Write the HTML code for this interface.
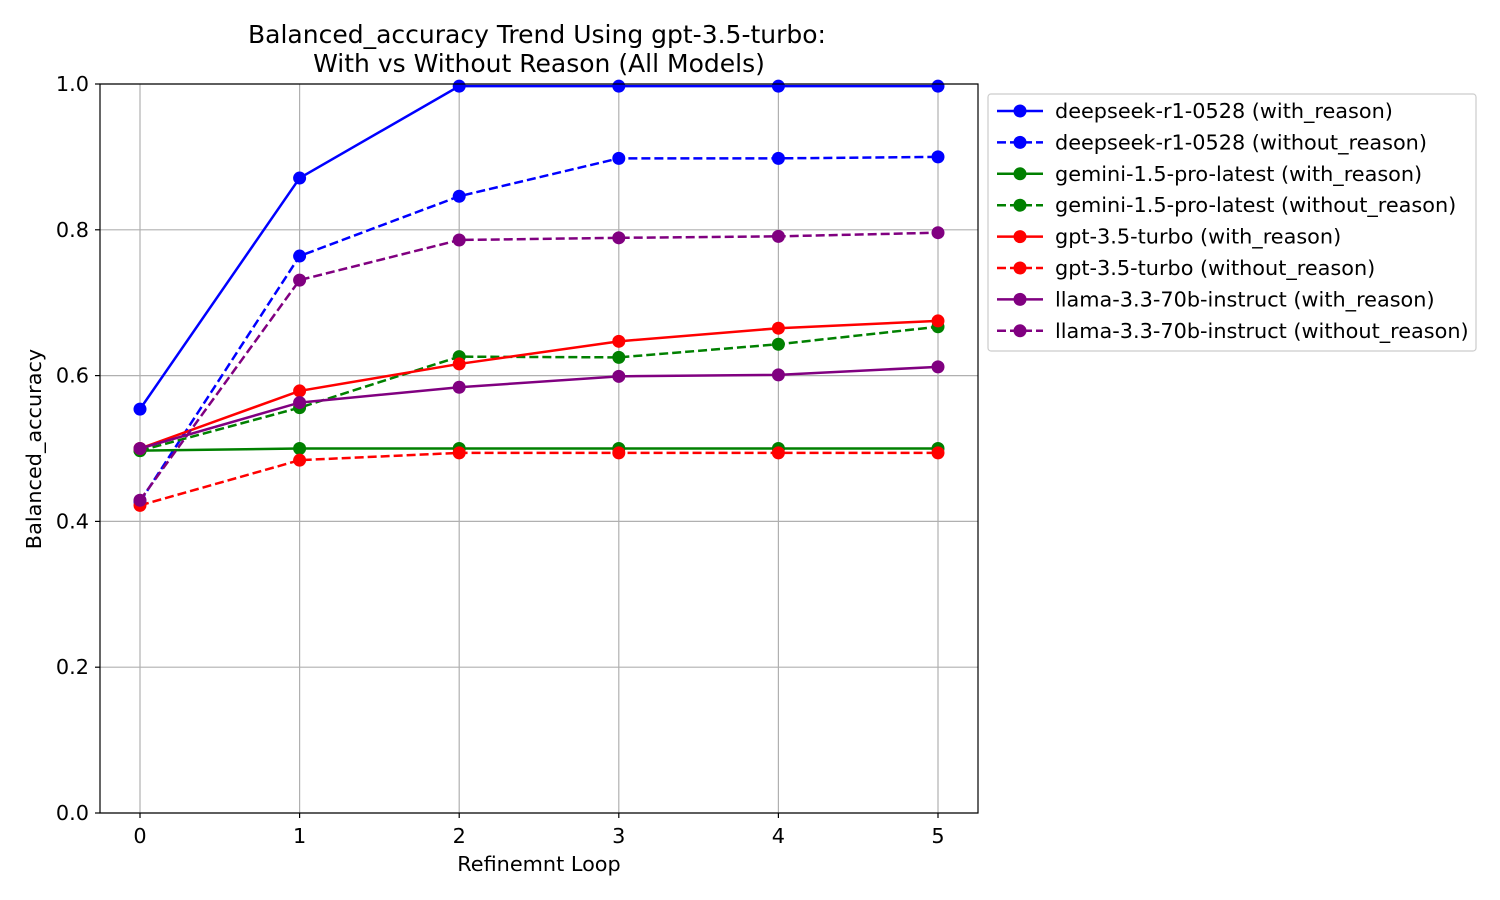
<!DOCTYPE html>
<html><head><meta charset="utf-8"><style>
html,body{margin:0;padding:0;background:#fff;}
svg{display:block;font-family:"DejaVu Sans","Liberation Sans",sans-serif;}
</style></head><body>
<svg id="chart" width="1500" height="900"></svg>
<script>
const categories=[0,1,2,3,4,5];
const yTicks=[0.0,0.2,0.4,0.6,0.8,1.0];
const seriesNames=["deepseek-r1-0528 (with_reason)","deepseek-r1-0528 (without_reason)","gemini-1.5-pro-latest (with_reason)","gemini-1.5-pro-latest (without_reason)","gpt-3.5-turbo (with_reason)","gpt-3.5-turbo (without_reason)","llama-3.3-70b-instruct (with_reason)","llama-3.3-70b-instruct (without_reason)"];
const deepseekWith=[0.554,0.871,0.997,0.997,0.997,0.997];
const deepseekWithout=[0.427,0.764,0.846,0.898,0.898,0.900];
const geminiWith=[0.497,0.500,0.500,0.500,0.500,0.500];
const geminiWithout=[0.497,0.556,0.626,0.625,0.643,0.667];
const gptWith=[0.500,0.579,0.616,0.647,0.665,0.675];
const gptWithout=[0.422,0.484,0.494,0.494,0.494,0.494];
const llamaWith=[0.500,0.563,0.584,0.599,0.601,0.612];
const llamaWithout=[0.429,0.731,0.786,0.789,0.791,0.796];
const seriesValues=[deepseekWith,deepseekWithout,geminiWith,geminiWithout,gptWith,gptWithout,llamaWith,llamaWithout];
const colors=["#0000ff","#0000ff","#008000","#008000","#ff0000","#ff0000","#800080","#800080"];
const dashed=[false,true,false,true,false,true,false,true];

const NS="http://www.w3.org/2000/svg";
const svg=document.getElementById('chart');
const L=100,R=978,T=84,B=813;
const x=v=>140+(v-0)*(938-140)/5;
const y=v=>B-(v-0)*(B-T)/1.0;
function mk(tag,attrs,parent){const e=document.createElementNS(NS,tag);for(const k in attrs)e.setAttribute(k,attrs[k]);(parent||svg).appendChild(e);return e;}

categories.forEach(c=>{const g=mk('line',{x1:x(c),x2:x(c),y1:T,y2:B,stroke:'#b0b0b0','stroke-width':1.2});

});
yTicks.forEach(t=>{const g=mk('line',{x1:L,x2:R,y1:y(t),y2:y(t),stroke:'#b0b0b0','stroke-width':1.2});

});

seriesValues.forEach((vals,i)=>{
  const grp=mk('g',{});
  
  
  const pts=vals.map((v,j)=>x(categories[j])+','+y(v)).join(' ');
  const pl=mk('polyline',{points:pts,fill:'none',stroke:colors[i],'stroke-width':2.5,'stroke-dasharray':dashed[i]?'9,4':'none'},grp);
  
  
  vals.forEach((v,j)=>{const c=mk('circle',{cx:x(categories[j]),cy:y(v),r:6.5,fill:colors[i]},grp);
    
    });
});

const fr=mk('rect',{x:L,y:T,width:R-L,height:B-T,fill:'none',stroke:'#000','stroke-width':1.2});



categories.forEach(c=>{
  mk('line',{x1:x(c),x2:x(c),y1:B,y2:B+5,stroke:'#000','stroke-width':1.2});
  const t=mk('text',{x:x(c),y:B+30,'text-anchor':'middle','font-size':20.8});t.textContent=c;
  
  
});
yTicks.forEach(v=>{
  mk('line',{x1:L-5,x2:L,y1:y(v),y2:y(v),stroke:'#000','stroke-width':1.2});
  const t=mk('text',{x:L-11,y:y(v)+7,'text-anchor':'end','font-size':20.8});t.textContent=v.toFixed(1);
  
  
});

const xt=mk('text',{x:539,y:871,'text-anchor':'middle','font-size':20.8});xt.textContent='Refinemnt Loop';


const yt=mk('text',{x:41,y:449,'text-anchor':'middle','font-size':20.8,transform:'rotate(-90 41 449)'});yt.textContent='Balanced_accuracy';


const t1=mk('text',{x:537,y:43,'text-anchor':'middle','font-size':25});t1.textContent='Balanced_accuracy Trend Using gpt-3.5-turbo:';


const t2=mk('text',{x:539,y:72,'text-anchor':'middle','font-size':25});t2.textContent='With vs Without Reason (All Models)';



const lg=mk('g',{});


mk('rect',{x:988,y:94,width:488,height:257,rx:3,fill:'#fff',stroke:'#cccccc','stroke-width':1.2},lg);
seriesNames.forEach((n,i)=>{
  const ey=111+i*31.4;
  const e=mk('g',{},lg);
  
  
  mk('line',{x1:997,x2:1043,y1:ey,y2:ey,stroke:colors[i],'stroke-width':2.5,'stroke-dasharray':dashed[i]?'9,4':'none'},e);
  mk('circle',{cx:1020,cy:ey,r:6.5,fill:colors[i]},e);
  const t=mk('text',{x:1055,y:ey+7,'font-size':20.8},e);t.textContent=n;
});
</script>
</body></html>
